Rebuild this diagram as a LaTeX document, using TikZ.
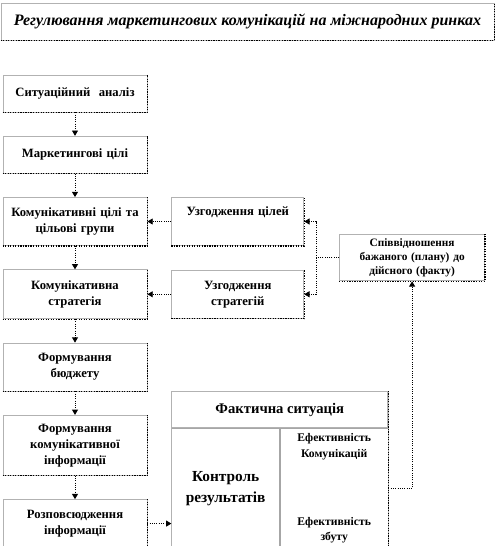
\documentclass[tikz,border=0pt]{standalone}
\usepackage{fontspec}
\setmainfont{Liberation Serif}
\usetikzlibrary{arrows.meta, positioning, fit, calc}

\begin{document}
\begin{tikzpicture}[
    node distance=17.6pt and 18pt,
    box/.style={draw=gray!60, line width=0.6pt, align=center, font=\fontsize{9.5}{12}\selectfont\bfseries, inner sep=2pt},
    lbox/.style={box, minimum width=108pt, text width=102pt},
    mbox/.style={box, minimum width=99pt, minimum height=36pt, text width=94pt},
    txt/.style={align=center, font=\fontsize{8.75}{11.5}\selectfont\bfseries, inner sep=1pt},
    sep/.style={draw=gray!70, line width=1.1pt},
    edge/.style={densely dotted, line width=0.7pt},
    arr/.style={edge, -{Triangle[length=4pt, width=4.5pt]}}
]
\useasboundingbox (0,0) rectangle (373.5pt,-409.5pt);

% Title
\node[box, minimum width=369.75pt, minimum height=27.75pt, font=\fontsize{12}{14}\selectfont\bfseries\itshape] (title) at (185.6pt,-16.1pt) {Регулювання маркетингових комунікацій на міжнародних ринках};

% Main column
\node[lbox, minimum height=27.75pt] (sit) at (56.25pt,-70.1pt) {Ситуаційний\ \ аналіз};
\node[lbox, minimum height=27.75pt, below=of sit] (mcil) {Маркетингові цілі};
\node[lbox, minimum height=36pt, below=of mcil] (kcil) {Комунікативні цілі та\\цільові групи};
\node[lbox, minimum height=36.75pt, below=of kcil] (kstr) {Комунікативна\\стратегія};
\node[lbox, minimum height=36pt, below=of kstr] (budz) {Формування\\бюджету};
\node[lbox, minimum height=45pt, below=of budz] (finf) {Формування\\комунікативної\\інформації};
\node[lbox, minimum height=36pt, below=of finf] (rozp) {Розповсюдження\\інформації};

% Coordination boxes
\node[mbox, right=of kcil] (uzc) {Узгодження цілей\\\strut};
\node[mbox, right=of kstr] (uzs) {Узгодження\\стратегій};
\coordinate (mid) at ($(uzc.east)!0.5!(uzs.east)$);
\node[box, minimum width=108.75pt, minimum height=34.5pt, text width=104pt, font=\fontsize{8.5}{10.5}\selectfont\bfseries, right=26.25pt of mid] (spiv) {Співвідношення\\бажаного (плану) до\\дійсного (факту)};

% Control table
\node[box, minimum width=162pt, minimum height=27pt, font=\fontsize{11}{13}\selectfont\bfseries, anchor=north west] (fakt) at (uzs.west |- budz.south) {Фактична ситуація};
\node[minimum width=81pt, minimum height=90pt, inner sep=0pt, align=center, font=\fontsize{11.5}{15.5}\selectfont\bfseries, below=0pt of fakt.south west, anchor=north west] (kontr) {Контроль\\результатів};
\node[minimum width=81pt, minimum height=90pt, inner sep=0pt, right=0pt of kontr] (efekt) {};
\node[txt, below=3pt of efekt.north] (efk) {Ефективність\\Комунікацій};
\node[txt, above=3pt of efekt.south] (efz) {Ефективність\\збуту};
\draw[sep] (fakt.south west) -- (fakt.south east);
\draw[sep] (efekt.north west) -- (efekt.south west);
\node[fit=(fakt)(kontr)(efekt), draw=gray!60, line width=0.6pt, inner sep=0pt] (frame) {};

% Dotted lower and right edges
\foreach \n in {title, sit, mcil, kcil, kstr, budz, finf, rozp, uzc, uzs, spiv, frame}
  \draw[edge, line width=0.9pt] (\n.south west) -- (\n.south east) -- (\n.north east);

% Arrows down the main column
\foreach \a/\b in {sit/mcil, mcil/kcil, kcil/kstr, kstr/budz, budz/finf, finf/rozp}
  \draw[arr] (\a) -- (\b);

% Feedback
\draw[arr] (uzc.west) -- (kcil.east);
\draw[arr] (uzs.west) -- (uzs.west -| kstr.east);
\coordinate[left=17.25pt of spiv.west] (jn);
\draw[edge] (spiv.west) -- (jn);
\draw[arr] (jn) |- (uzc.east);
\draw[arr] (jn) |- (uzs.east);
\draw[arr] (rozp.east) -- (rozp.east -| kontr.west);
\draw[arr] (efekt.east) -| (spiv.south);

\end{tikzpicture}
\end{document}
